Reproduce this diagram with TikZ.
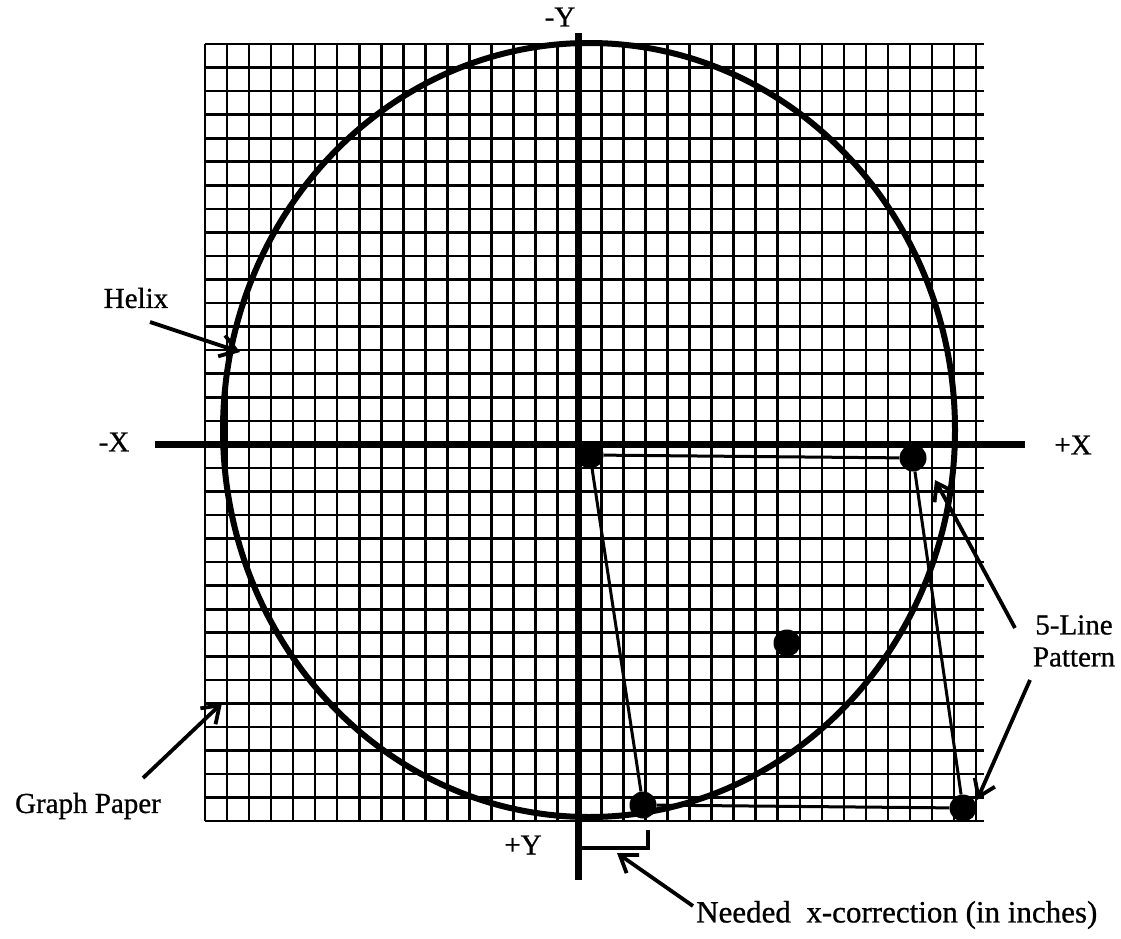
\documentclass[tikz,border=0pt]{standalone}
\usepackage{fontspec}
\setmainfont{Liberation Serif}[FakeBold=0.8]
\usetikzlibrary{arrows.meta}
\begin{document}
\begin{tikzpicture}[x=1pt,y=-1pt,
  gridline/.style={line width=2.6pt},
  axisline/.style={line width=7pt},
  helixline/.style={line width=6pt},
  patline/.style={line width=3pt},
  dotnode/.style={circle,fill=black,inner sep=0pt,minimum size=27pt},
  lbl/.style={font=\fontsize{29}{32}\selectfont, inner sep=0pt},
  callout/.style={line width=3.8pt, -{Straight Barb[length=16pt,width=22pt,line width=3.8pt]}}]
\useasboundingbox (0,0) rectangle (1121,939);
% graph paper
\foreach \i in {0,...,35} \draw[gridline] ({205+\i*22.03},44) -- ({205+\i*22.03},821);
\foreach \j in {0,...,33} \draw[gridline] (205,{44+\j*23.55}) -- (984,{44+\j*23.55});
% axes
\coordinate (ytop) at (578,33);
\coordinate (ybot) at (578,880);
\coordinate (xl) at (155,444);
\coordinate (xr) at (1025,444);
\draw[axisline] (ytop) -- (ybot);
\draw[axisline] (xl) -- (xr);
% helix
\draw[helixline] (589,430) ellipse [x radius=366, y radius=387];
% dots
\node[dotnode] (o) at (590,455) {};
\node[dotnode] (a) at (913,458) {};
\node[dotnode] (m) at (787,643) {};
\node[dotnode] (b) at (643,805) {};
\node[dotnode] (c) at (963,808) {};
% 5-line pattern
\draw[patline] (o) -- (a);
\draw[patline] (o) -- (b);
\draw[patline] (b) -- (c);
\draw[patline] (a) -- (c);
% bracket
\coordinate (br1) at (578,848);
\coordinate (br2) at (648,848);
\coordinate (br3) at (648,830);
\draw[line width=3.5pt] (br1) -- (br2) -- (br3);
% labels
\node[lbl] (ny) at (560,17) {-Y};
\node[lbl] (nx) at (114,442) {-X};
\node[lbl] (px) at (1073,445) {+X};
\node[lbl] (py) at (523,845) {+Y};
\node[lbl] (helix) at (136,298) {Helix};
\node[lbl] (gp) at (88,806) {Graph Paper};
\node[lbl,align=center] (fl) at (1074,641) {5-Line\\Pattern};
\node[lbl,anchor=west,font=\fontsize{31}{34}\selectfont] (need) at (696,915) {Needed\ \ x-correction (in inches)};
% callout arrows
\coordinate (h1) at (150,322); \coordinate (h2) at (240,352);
\coordinate (g1) at (143,778); \coordinate (g2) at (222,703);
\coordinate (f1) at (1015,628); \coordinate (f2) at (935,480);
\coordinate (f3) at (1030,680); \coordinate (f4) at (977,800);
\coordinate (n1) at (693,906); \coordinate (n2) at (617,853);
\draw[callout] (h1) -- (h2);
\draw[callout] (g1) -- (g2);
\draw[callout] (f1) -- (f2);
\draw[callout] (f3) -- (f4);
\draw[callout] (n1) -- (n2);
\end{tikzpicture}
\end{document}
